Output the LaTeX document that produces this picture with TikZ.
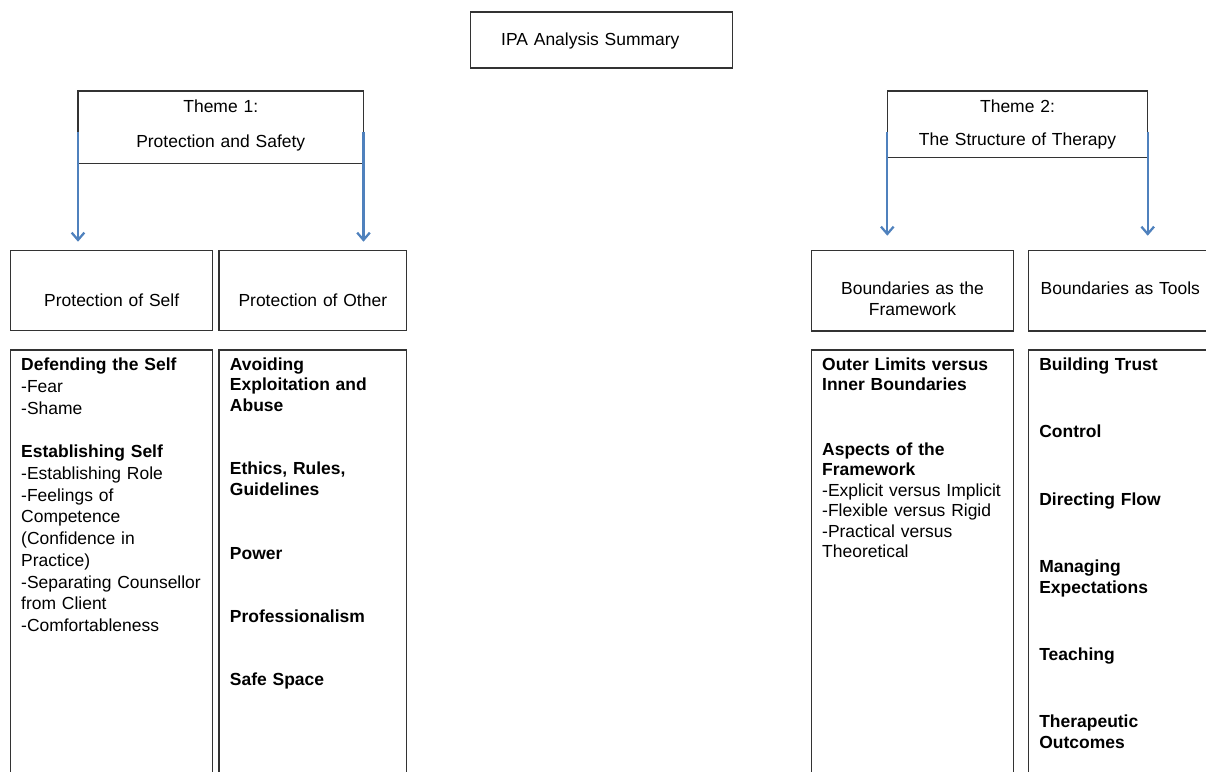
\documentclass[tikz,border=0pt]{standalone}
\usepackage{fontspec}
\setmainfont{Liberation Sans}
\usetikzlibrary{positioning,arrows.meta}
\definecolor{flowblue}{HTML}{4F81BD}
\newlength\pxu
\setlength\pxu{0.75pt}

\begin{document}
\begin{tikzpicture}[x=0.75pt, y=-0.75pt,
	box/.style={draw=black!80, line width=1pt, inner ysep=0pt, outer sep=0pt, anchor=north west},
	head/.style={box, align=center, font=\fontsize{13.1}{26}\selectfont},
	sub/.style={box, align=center, font=\fontsize{13.1}{15.75}\selectfont},
	list/.style={box, align=left, font=\fontsize{13.1}{15.6}\selectfont, text height=20\pxu, text depth=420\pxu},
	flow/.style={draw=flowblue, line width=1.7pt, -{Straight Barb[length=5.5pt,width=9.5pt]}}]
	\path[use as bounding box] (0,0) rectangle (1206,771);
	\clip (0,0) rectangle (1206,771);
	
	\node[box, align=left, inner xsep=30.5\pxu, text width=201\pxu, text height=33.7\pxu, text depth=22.3\pxu, font=\fontsize{13.1}{15.75}\selectfont] (t) at (470.7,12) {IPA Analysis Summary};
	
	\node[head, inner xsep=5\pxu, text width=275.5\pxu, text height=21.7\pxu, text depth=50.6\pxu] (h1) at (78,91) {Theme 1:\\Protection and Safety};
	\node[head, inner xsep=5\pxu, text width=250.4\pxu, text height=21.7\pxu, text depth=45\pxu] (h2) at (887.3,91) {Theme 2:\\[-1.3pt]The Structure of Therapy};
	
	\node[sub, inner xsep=5\pxu, text width=192\pxu, text height=55.3\pxu, text depth=24.7\pxu] (m1) at (10.7,250.7) {Protection of Self};
	\node[sub, right=4.7pt of m1.north east, anchor=north west, inner xsep=5\pxu, text width=177.7\pxu, text height=56\pxu, text depth=24\pxu] (m2) {Protection of Other};
	\node[sub, inner xsep=5\pxu, text width=191.6\pxu, text height=43.3\pxu, text depth=37\pxu] (m3) at (811.7,250.7) {Boundaries as the\\Framework};
	\node[sub, right=11.25pt of m3.north east, anchor=north west, inner xsep=5\pxu, text width=174\pxu, text height=43.3\pxu, text depth=37\pxu] (m4) {Boundaries as Tools};
	
	\node[list, below=14.5pt of m1.south west, anchor=north west, inner xsep=10.5\pxu, text width=181\pxu, text height=20.7\pxu, text depth=419.3\pxu, font=\fontsize{13.1}{16.3}\selectfont] (l1) {\textbf{Defending the Self}\\-Fear\\-Shame\\[\baselineskip]\textbf{Establishing Self}\\-Establishing Role\\-Feelings of\\Competence\\(Confidence in\\Practice)\\-Separating Counsellor\\from Client\\-Comfortableness};
	\node[list, below=14.5pt of m2.south west, anchor=north west, inner xsep=11\pxu, text width=165.7\pxu, font=\fontsize{13.1}{15.6}\selectfont\bfseries] (l2) {Avoiding\\Exploitation and\\Abuse\\[42.5\pxu]Ethics, Rules,\\Guidelines\\[42.5\pxu]Power\\[42.5\pxu]Professionalism\\[42.5\pxu]Safe Space};
	\node[list, below=14.25pt of m3.south west, anchor=north west, inner xsep=10.5\pxu, text width=180.6\pxu, font=\fontsize{13.1}{15.4}\selectfont] (l3) {\textbf{Outer Limits versus}\\\textbf{Inner Boundaries}\\[44\pxu]\textbf{Aspects of the}\\\textbf{Framework}\\-Explicit versus Implicit\\-Flexible versus Rigid\\-Practical versus\\Theoretical};
	\node[list, below=14.25pt of m4.south west, anchor=north west, inner xsep=11\pxu, text width=162\pxu, text height=20.7\pxu, text depth=419.3\pxu, font=\fontsize{13.1}{15.6}\selectfont\bfseries] (l4) {Building Trust\\[46.4\pxu]Control\\[46.4\pxu]Directing Flow\\[46.4\pxu]Managing\\Expectations\\[46.4\pxu]Teaching\\[46.4\pxu]Therapeutic\\Outcomes};
	
	\draw[flow] ([yshift=-40.7\pxu]h1.north west) -- ([yshift=9\pxu]h1.west |- m1.north);
	\draw[flow] ([yshift=-40.7\pxu]h1.north east) -- ([yshift=9\pxu]h1.east |- m2.north);
	\draw[flow] ([yshift=-40.7\pxu]h2.north west) -- ([yshift=15\pxu]h2.west |- m3.north);
	\draw[flow] ([yshift=-40.7\pxu]h2.north east) -- ([yshift=15\pxu]h2.east |- m4.north);
\end{tikzpicture}
\end{document}
